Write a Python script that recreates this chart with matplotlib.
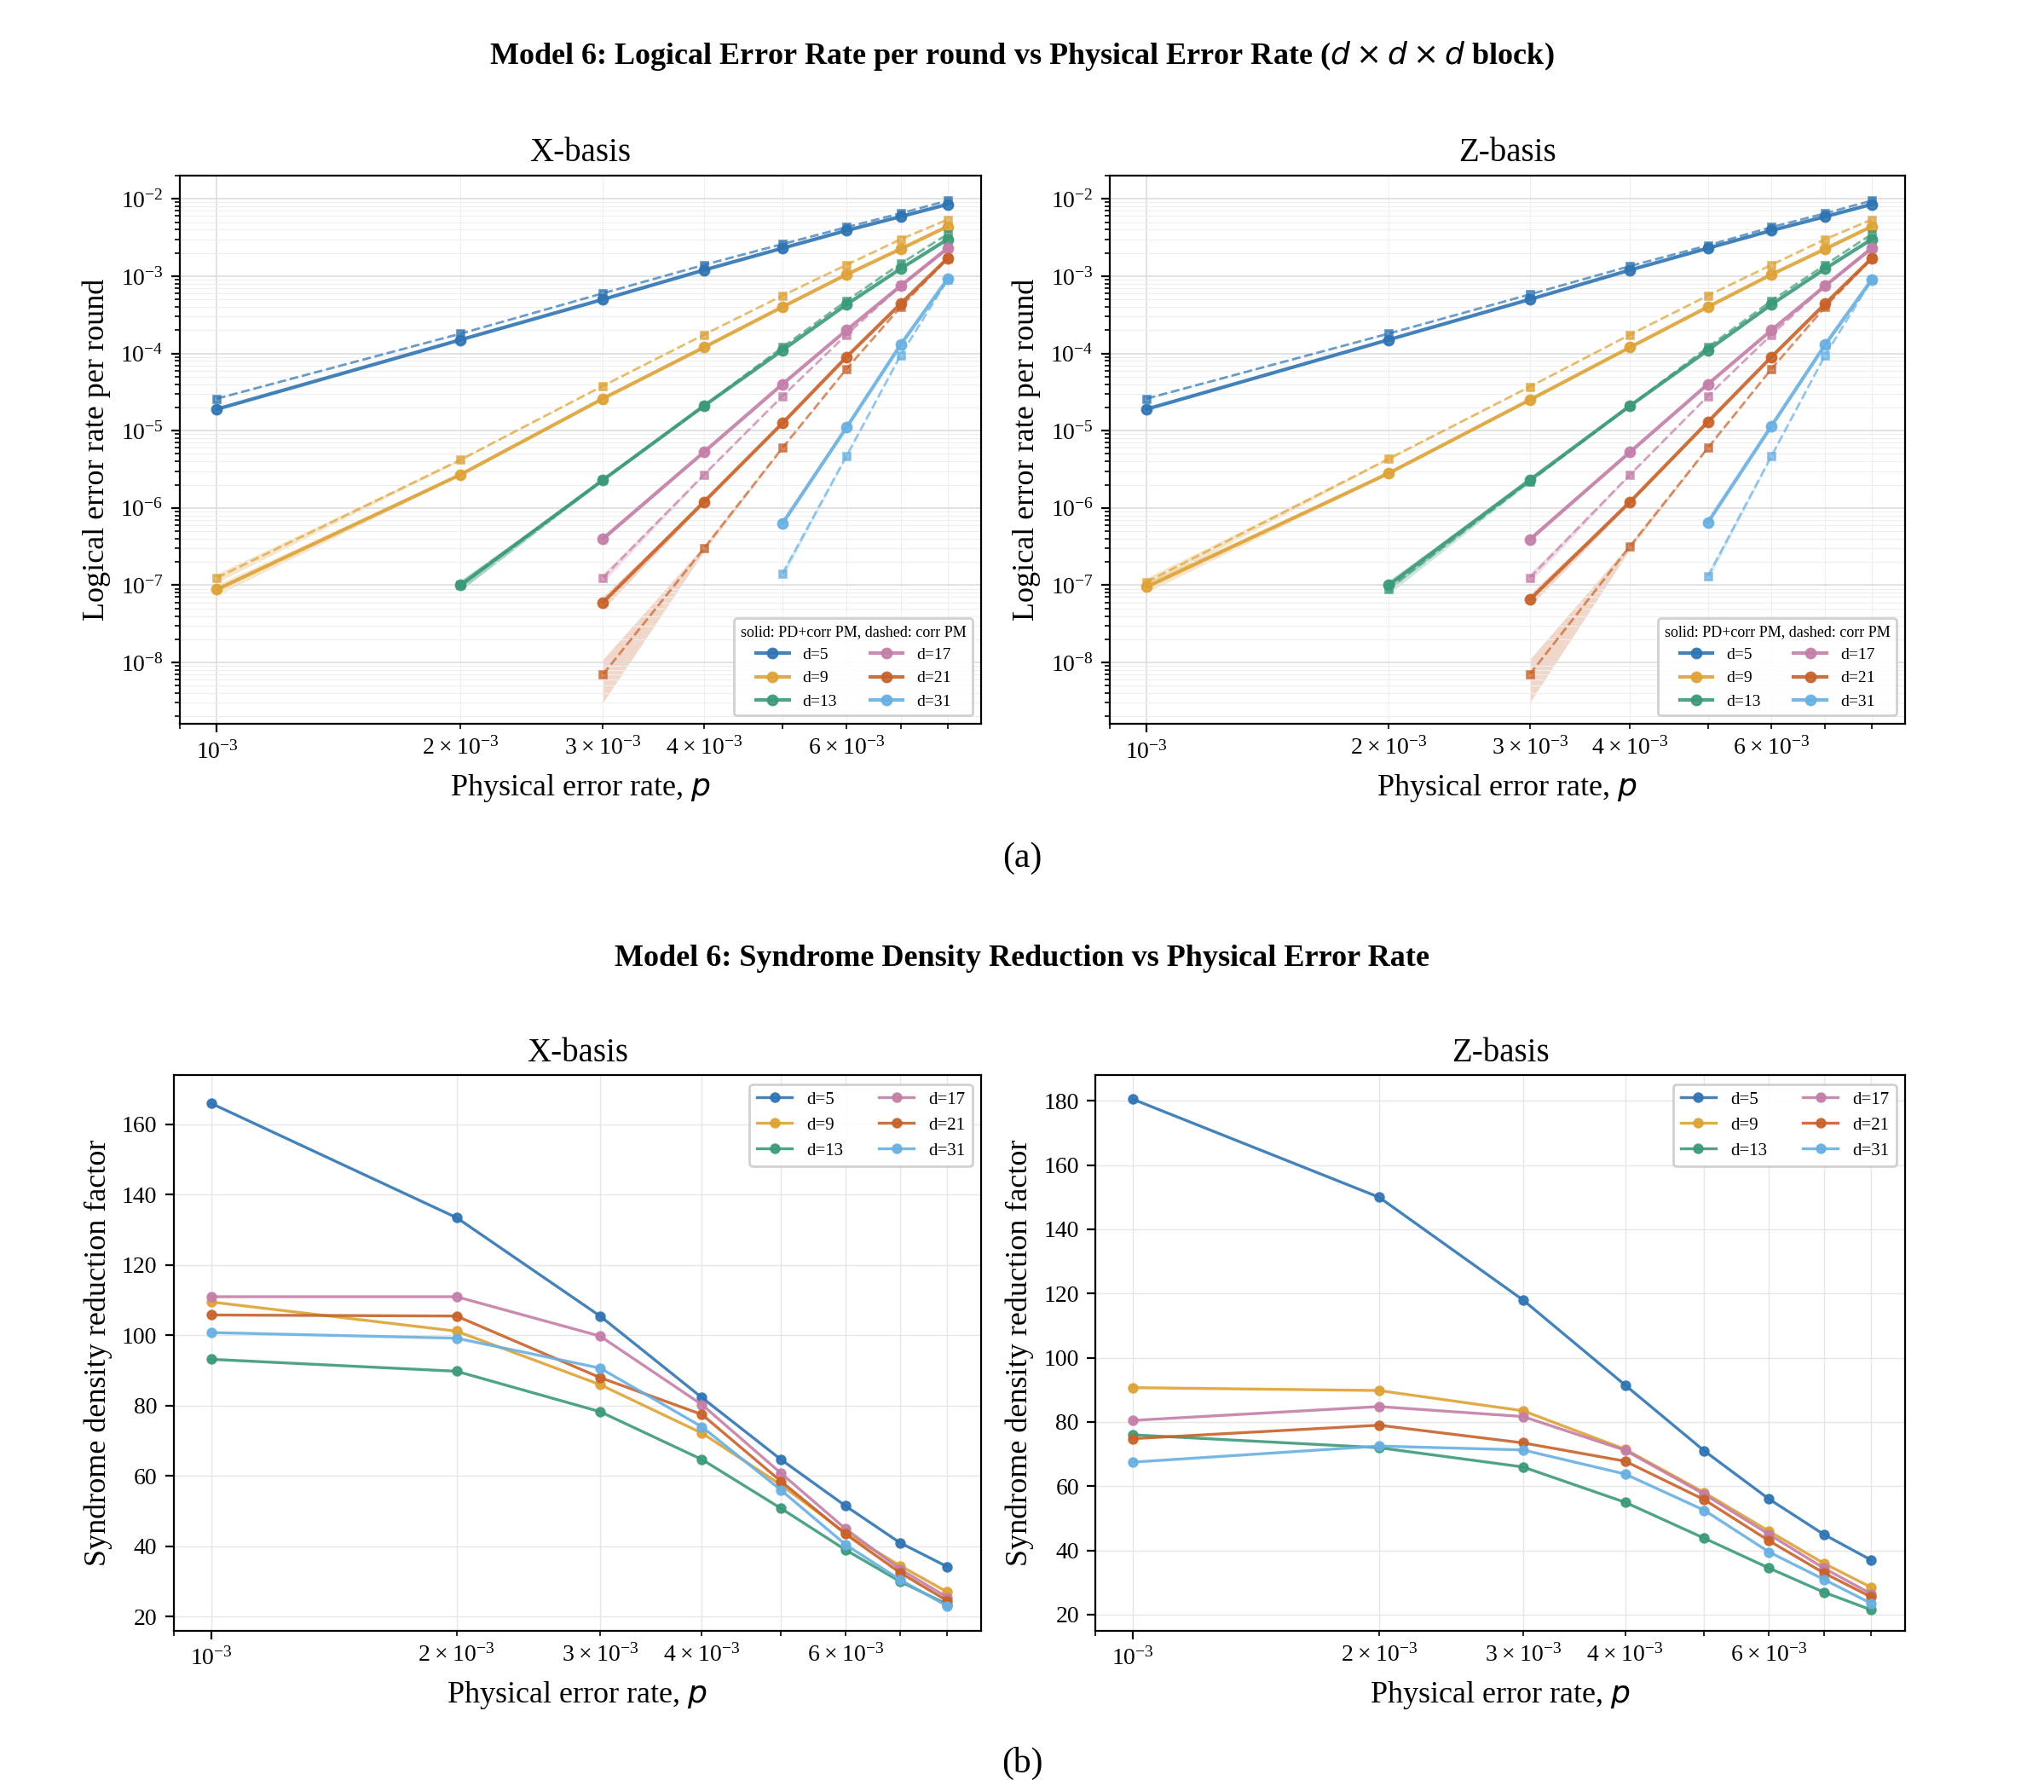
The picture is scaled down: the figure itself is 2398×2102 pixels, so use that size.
import matplotlib.pyplot as plt
import numpy as np

plt.rcParams["font.family"] = ["Liberation Serif", "DejaVu Serif"]
plt.rcParams["mathtext.fontset"] = "dejavusans"

p_vals = np.array([1, 2, 3, 4, 5, 6, 7, 8]) * 1e-3
distances = [5, 9, 13, 17, 21, 31]
colors = {5: "#2f74b3", 9: "#dea236", 13: "#3b9a78", 17: "#c47ea8", 21: "#c8622a", 31: "#68b0e2"}
start_idx = {5: 0, 9: 0, 13: 1, 17: 2, 21: 2, 31: 4}
shots = 1.7e9

# logical error rate per round (solid: PD+corr PM, dashed: corr PM)
ler_x_pd = {
    5: [1.9e-5, 1.5e-4, 5.0e-4, 1.2e-3, 2.3e-3, 3.9e-3, 5.9e-3, 8.5e-3],
    9: [8.8e-8, 2.7e-6, 2.6e-5, 1.2e-4, 4.0e-4, 1.05e-3, 2.25e-3, 4.4e-3],
    13: [1.0e-7, 2.3e-6, 2.1e-5, 1.1e-4, 4.3e-4, 1.25e-3, 3.0e-3],
    17: [4.0e-7, 5.3e-6, 4.0e-5, 2.0e-4, 7.5e-4, 2.3e-3],
    21: [6.0e-8, 1.2e-6, 1.25e-5, 9.0e-5, 4.4e-4, 1.7e-3],
    31: [6.3e-7, 1.1e-5, 1.3e-4, 9.2e-4],
}
ler_x_corr = {
    5: [2.6e-5, 1.8e-4, 6.0e-4, 1.4e-3, 2.6e-3, 4.3e-3, 6.5e-3, 9.5e-3],
    9: [1.25e-7, 4.2e-6, 3.8e-5, 1.75e-4, 5.6e-4, 1.4e-3, 3.0e-3, 5.4e-3],
    13: [1.0e-7, 2.3e-6, 2.1e-5, 1.2e-4, 4.8e-4, 1.45e-3, 3.5e-3],
    17: [1.25e-7, 2.7e-6, 2.8e-5, 1.75e-4, 7.5e-4, 2.3e-3],
    21: [7e-9, 3.0e-7, 6.0e-6, 6.3e-5, 4.0e-4, 1.7e-3],
    31: [1.4e-7, 4.7e-6, 9.5e-5, 9.0e-4],
}
ler_z_pd = {
    5: [1.9e-5, 1.5e-4, 5.0e-4, 1.2e-3, 2.3e-3, 3.9e-3, 5.9e-3, 8.5e-3],
    9: [9.5e-8, 2.8e-6, 2.5e-5, 1.2e-4, 4.0e-4, 1.05e-3, 2.25e-3, 4.4e-3],
    13: [1.0e-7, 2.3e-6, 2.1e-5, 1.1e-4, 4.3e-4, 1.25e-3, 3.0e-3],
    17: [3.9e-7, 5.3e-6, 4.0e-5, 2.0e-4, 7.5e-4, 2.3e-3],
    21: [6.5e-8, 1.2e-6, 1.3e-5, 9.0e-5, 4.4e-4, 1.7e-3],
    31: [6.5e-7, 1.15e-5, 1.3e-4, 9.0e-4],
}
ler_z_corr = {
    5: [2.6e-5, 1.8e-4, 5.8e-4, 1.35e-3, 2.5e-3, 4.3e-3, 6.5e-3, 9.5e-3],
    9: [1.1e-7, 4.3e-6, 3.7e-5, 1.75e-4, 5.6e-4, 1.4e-3, 3.0e-3, 5.4e-3],
    13: [9.0e-8, 2.2e-6, 2.1e-5, 1.2e-4, 4.8e-4, 1.4e-3, 3.5e-3],
    17: [1.25e-7, 2.7e-6, 2.8e-5, 1.75e-4, 7.5e-4, 2.3e-3],
    21: [7e-9, 3.2e-7, 6.0e-6, 6.3e-5, 4.0e-4, 1.7e-3],
    31: [1.3e-7, 4.7e-6, 9.5e-5, 9.0e-4],
}

# syndrome density reduction factor
sdr_x = {
    5: [166, 133.5, 105.5, 82.3, 64.7, 51.5, 41, 34.2],
    9: [109.5, 101.2, 86, 72.2, 57.5, 43.8, 34.5, 27],
    13: [93.2, 89.8, 78.3, 64.7, 50.8, 39, 30, 23.5],
    17: [111, 111, 99.8, 80.3, 60.8, 45, 33.5, 25.5],
    21: [105.8, 105.5, 88, 77.5, 58.5, 43.5, 32.5, 24.5],
    31: [100.8, 99.2, 90.7, 74, 56, 40.5, 30.5, 23],
}
sdr_z = {
    5: [180.5, 150, 118, 91.5, 71, 56, 45, 37],
    9: [90.7, 89.8, 83.5, 71.5, 58, 46, 36, 28.5],
    13: [76, 72, 66, 55, 43.8, 34.5, 27, 21.5],
    17: [80.5, 84.8, 81.7, 71.2, 57.5, 45, 34.5, 26.5],
    21: [74.8, 79, 73.5, 67.8, 55.8, 43, 33, 25.5],
    31: [67.5, 72.5, 71.3, 63.8, 52.5, 39.5, 31, 23.5],
}

fig = plt.figure(figsize=(11.99, 10.51), dpi=200)
ax_tl = fig.add_axes([0.088, 0.596, 0.392, 0.306])
ax_tr = fig.add_axes([0.543, 0.596, 0.389, 0.306])
ax_bl = fig.add_axes([0.085, 0.090, 0.395, 0.310])
ax_br = fig.add_axes([0.536, 0.090, 0.396, 0.310])


def band(vals):
    v = np.array(vals)
    rel = 1.96 / np.sqrt(v * shots)
    return v * np.clip(1 - rel, 0.05, None), v * (1 + rel)


def plot_ler(ax, pd, corr, title):
    for d in distances:
        x = p_vals[start_idx[d]:]
        c = colors[d]
        lo, hi = band(pd[d])
        ax.fill_between(x, lo, hi, color=c, alpha=0.25, lw=0)
        ax.plot(x, pd[d], "-o", color=c, ms=4, lw=1.5, alpha=0.9, label=f"d={d}")
        lo, hi = band(corr[d])
        ax.fill_between(x, lo, hi, color=c, alpha=0.25, lw=0)
        ax.plot(x, corr[d], "--s", color=c, ms=3, lw=1.0, alpha=0.7)
    ax.set_xscale("log")
    ax.set_yscale("log")
    ax.set_xlim(0.9e-3, 8.8e-3)
    ax.set_ylim(1.6e-9, 2e-2)
    ax.grid(True, which="major", color="#dddddd", lw=0.6)
    ax.grid(True, which="minor", color="#eeeeee", lw=0.4)
    ax.set_title(title, fontsize=14)
    ax.set_xlabel("Physical error rate, $p$", fontsize=13)
    ax.set_ylabel("Logical error rate per round", fontsize=13)
    ax.tick_params(labelsize=10)
    ax.legend(loc="lower right", ncol=2, fontsize=7, title="solid: PD+corr PM, dashed: corr PM",
              title_fontsize=6.5, framealpha=0.9)


def plot_sdr(ax, data, title):
    for d in distances:
        ax.plot(p_vals, data[d], "-o", color=colors[d], ms=3.5, lw=1.2, alpha=0.9, label=f"d={d}")
    ax.set_xscale("log")
    ax.set_xlim(0.9e-3, 8.8e-3)
    ax.grid(True, which="both", color="#e6e6e6", lw=0.5)
    ax.set_title(title, fontsize=14)
    ax.set_xlabel("Physical error rate, $p$", fontsize=13)
    ax.set_ylabel("Syndrome density reduction factor", fontsize=13)
    ax.tick_params(labelsize=10)
    ax.legend(loc="upper right", ncol=2, fontsize=7.5, framealpha=0.9)


plot_ler(ax_tl, ler_x_pd, ler_x_corr, "X-basis")
plot_ler(ax_tr, ler_z_pd, ler_z_corr, "Z-basis")
plot_sdr(ax_bl, sdr_x, "X-basis")
plot_sdr(ax_br, sdr_z, "Z-basis")
ax_bl.set_ylim(16, 174)
ax_br.set_ylim(15, 188)

fig.text(0.5, 0.969, r"Model 6: Logical Error Rate per round vs Physical Error Rate ($d \times d \times d$ block)",
         ha="center", va="center", fontsize=13, fontweight="bold")
fig.text(0.5, 0.521, "(a)", ha="center", va="center", fontsize=15)
fig.text(0.5, 0.465, "Model 6: Syndrome Density Reduction vs Physical Error Rate",
         ha="center", va="center", fontsize=13, fontweight="bold")
fig.text(0.5, 0.016, "(b)", ha="center", va="center", fontsize=15)

fig.savefig("out.png", dpi=200)
